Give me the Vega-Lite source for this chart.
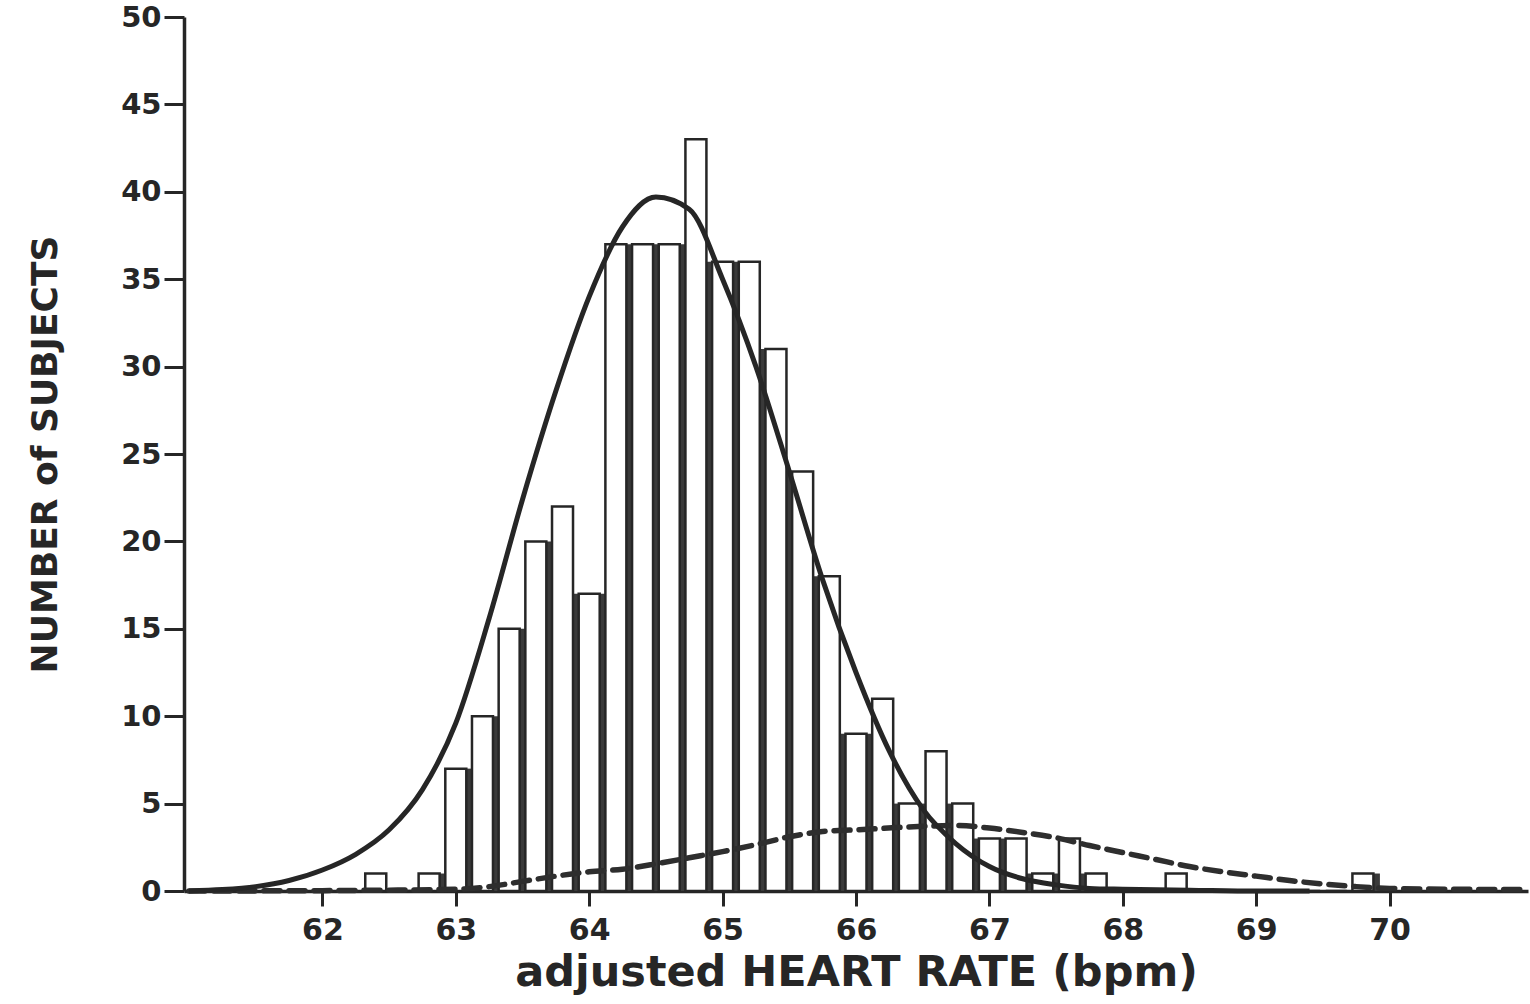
{
  "$schema": "https://vega.github.io/schema/vega-lite/v6.json",
  "width": 1344,
  "height": 874,
  "autosize": {"type": "none"},
  "padding": {"left": 184, "top": 17, "right": 2, "bottom": 113},
  "background": "white",
  "config": {
    "view": {"stroke": null},
    "axis": {
      "domainColor": "#262626", "tickColor": "#262626", "labelColor": "#262626", "titleColor": "#262626",
      "labelFont": "DejaVu Sans", "titleFont": "DejaVu Sans", "labelFontWeight": "bold", "titleFontWeight": "bold",
      "grid": false, "domainWidth": 3.5, "tickWidth": 3
    }
  },
  "datasets": {
    "bars": [
      {"hr": 62.4, "count": 1}, {"hr": 62.6, "count": 0}, {"hr": 62.8, "count": 1},
      {"hr": 63.0, "count": 7}, {"hr": 63.2, "count": 10}, {"hr": 63.4, "count": 15},
      {"hr": 63.6, "count": 20}, {"hr": 63.8, "count": 22}, {"hr": 64.0, "count": 17},
      {"hr": 64.2, "count": 37}, {"hr": 64.4, "count": 37}, {"hr": 64.6, "count": 37},
      {"hr": 64.8, "count": 43}, {"hr": 65.0, "count": 36}, {"hr": 65.2, "count": 36},
      {"hr": 65.4, "count": 31}, {"hr": 65.6, "count": 24}, {"hr": 65.8, "count": 18},
      {"hr": 66.0, "count": 9}, {"hr": 66.2, "count": 11}, {"hr": 66.4, "count": 5},
      {"hr": 66.6, "count": 8}, {"hr": 66.8, "count": 5}, {"hr": 67.0, "count": 3},
      {"hr": 67.2, "count": 3}, {"hr": 67.4, "count": 1}, {"hr": 67.6, "count": 3},
      {"hr": 67.8, "count": 1}, {"hr": 68.0, "count": 0}, {"hr": 68.2, "count": 0},
      {"hr": 68.4, "count": 1}, {"hr": 68.6, "count": 0}, {"hr": 68.8, "count": 0},
      {"hr": 69.0, "count": 0}, {"hr": 69.2, "count": 0}, {"hr": 69.4, "count": 0},
      {"hr": 69.6, "count": 0}, {"hr": 69.8, "count": 1}
    ],
    "solid": [
      {"hr": 61.0, "y": 0.0}, {"hr": 61.25, "y": 0.08}, {"hr": 61.5, "y": 0.25}, {"hr": 61.75, "y": 0.6},
      {"hr": 62.0, "y": 1.2}, {"hr": 62.25, "y": 2.1}, {"hr": 62.5, "y": 3.5}, {"hr": 62.75, "y": 5.8},
      {"hr": 63.0, "y": 9.6}, {"hr": 63.25, "y": 15.6}, {"hr": 63.5, "y": 22.4}, {"hr": 63.75, "y": 28.6},
      {"hr": 64.0, "y": 34.0}, {"hr": 64.25, "y": 38.0}, {"hr": 64.5, "y": 39.7}, {"hr": 64.75, "y": 39.0},
      {"hr": 65.0, "y": 35.0}, {"hr": 65.25, "y": 30.0}, {"hr": 65.5, "y": 24.0}, {"hr": 65.75, "y": 17.8},
      {"hr": 66.0, "y": 12.5}, {"hr": 66.25, "y": 8.0}, {"hr": 66.5, "y": 4.7}, {"hr": 66.75, "y": 2.7},
      {"hr": 67.0, "y": 1.4}, {"hr": 67.25, "y": 0.7}, {"hr": 67.5, "y": 0.35}, {"hr": 67.75, "y": 0.15},
      {"hr": 68.0, "y": 0.1}, {"hr": 68.5, "y": 0.05}, {"hr": 69.0, "y": 0.0}, {"hr": 69.4, "y": 0.0}
    ],
    "dashed": [
      {"hr": 61.0, "y": 0.0}, {"hr": 62.0, "y": 0.02}, {"hr": 62.5, "y": 0.05}, {"hr": 63.0, "y": 0.1},
      {"hr": 63.25, "y": 0.25}, {"hr": 63.5, "y": 0.55}, {"hr": 63.75, "y": 0.85}, {"hr": 64.0, "y": 1.1},
      {"hr": 64.25, "y": 1.25}, {"hr": 64.5, "y": 1.55}, {"hr": 64.75, "y": 1.9}, {"hr": 65.0, "y": 2.25},
      {"hr": 65.25, "y": 2.65}, {"hr": 65.5, "y": 3.1}, {"hr": 65.75, "y": 3.4}, {"hr": 66.0, "y": 3.5},
      {"hr": 66.5, "y": 3.7}, {"hr": 66.75, "y": 3.75}, {"hr": 67.0, "y": 3.6}, {"hr": 67.25, "y": 3.35},
      {"hr": 67.5, "y": 3.05}, {"hr": 67.75, "y": 2.6}, {"hr": 68.0, "y": 2.2}, {"hr": 68.25, "y": 1.8},
      {"hr": 68.5, "y": 1.4}, {"hr": 68.75, "y": 1.1}, {"hr": 69.0, "y": 0.85}, {"hr": 69.25, "y": 0.6},
      {"hr": 69.5, "y": 0.4}, {"hr": 69.75, "y": 0.25}, {"hr": 70.0, "y": 0.15}, {"hr": 70.5, "y": 0.1},
      {"hr": 71.0, "y": 0.08}
    ]
  },
  "layer": [
    {
      "data": {"name": "bars"},
      "transform": [
        {"window": [{"op": "min", "field": "count", "as": "gap"}], "frame": [0, 1], "sort": [{"field": "hr"}]}
      ],
      "mark": {"type": "bar", "width": 7, "xOffset": 13.5, "fill": "#3a3a3a", "stroke": null},
      "encoding": {
        "x": {"field": "hr", "type": "quantitative", "scale": {"domain": [61, 71], "nice": false, "zero": false},
          "axis": {"values": [62, 63, 64, 65, 66, 67, 68, 69, 70], "format": "d", "tickSize": 15, "labelFontSize": 30, "labelPadding": 9,
            "title": "adjusted HEART RATE (bpm)", "titleFontSize": 43, "titlePadding": 6}},
        "y": {"field": "gap", "type": "quantitative", "scale": {"domain": [0, 50], "nice": false},
          "axis": {"values": [0, 5, 10, 15, 20, 25, 30, 35, 40, 45, 50], "tickSize": 20, "labelFontSize": 29, "labelPadding": 3,
            "title": "NUMBER of SUBJECTS", "titleFontSize": 36, "titlePadding": 56}}
      }
    },
    {
      "data": {"name": "bars"},
      "mark": {"type": "bar", "width": 21, "fill": "white", "stroke": "#262626", "strokeWidth": 2.5},
      "encoding": {
        "x": {"field": "hr", "type": "quantitative"},
        "y": {"field": "count", "type": "quantitative"}
      }
    },
    {
      "data": {"name": "dashed"},
      "mark": {"type": "line", "color": "#2e2e2e", "strokeWidth": 5.5, "strokeDash": [16, 9], "strokeCap": "round", "interpolate": "monotone"},
      "encoding": {
        "x": {"field": "hr", "type": "quantitative"},
        "y": {"field": "y", "type": "quantitative"}
      }
    },
    {
      "data": {"name": "solid"},
      "mark": {"type": "line", "color": "#262626", "strokeWidth": 5, "interpolate": "monotone"},
      "encoding": {
        "x": {"field": "hr", "type": "quantitative"},
        "y": {"field": "y", "type": "quantitative"}
      }
    }
  ]
}
